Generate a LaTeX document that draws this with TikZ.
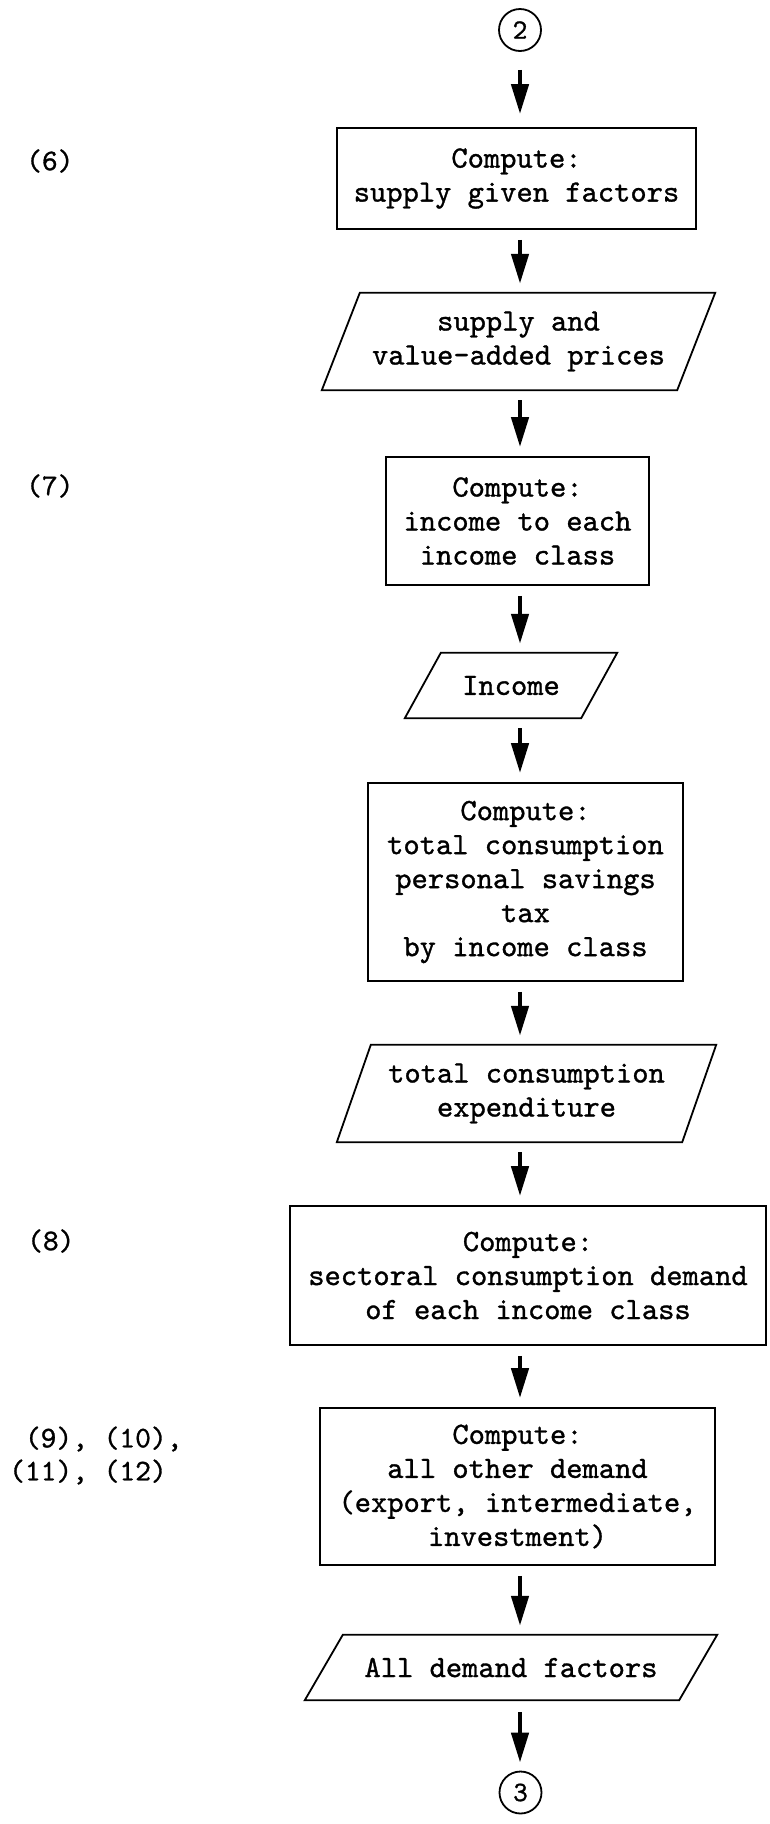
\documentclass[tikz,border=0pt]{standalone}
\usepackage{fontspec}
\newfontfamily\tw[FakeBold=1.0]{lmmono10-regular.otf}
\usetikzlibrary{arrows.meta,calc}

% parallelogram (input/output) outline around a node: #1 node name, #2 half slant
\newcommand\drawpara[2]{%
  \draw[outline] ($(#1.north west)+(#2,0)$) -- ($(#1.north east)+(#2,0)$)
    -- ($(#1.south east)-(#2,0)$) -- ($(#1.south west)-(#2,0)$) -- cycle;}

\begin{document}
\begin{tikzpicture}[x=1pt,y=-1pt,
  txt/.style={font=\tw\fontsize{31}{34}\selectfont, align=center, inner sep=0pt},
  outline/.style={line width=1.8pt, line join=miter},
  procbox/.style={txt, draw, outline},
  iobox/.style={txt},
  conn/.style={draw, circle, line width=1.8pt, minimum size=42pt, inner sep=0pt,
    font=\tw\fontsize{28}{28}\selectfont},
  lbl/.style={font=\tw\fontsize{30}{33}\selectfont, align=left, inner sep=0pt, anchor=west},
  flow/.style={line width=4.5pt, -{Triangle[length=30pt,width=17pt]},
    shorten <=10pt, shorten >=9pt}]

\fill[white] (0,0) rectangle (769,1824);
\useasboundingbox (0,0) rectangle (769,1824);

\coordinate (axis) at (520,0);

% connectors in and out
\node[conn] (c2) at (520,30) {2};
\node[conn] (c3) at (520.5,1792.5) {3};

% processing steps and their outputs
\node[procbox, minimum width=359pt, minimum height=101pt] (b1) at (516.5,178.5)
  {Compute:\\supply given factors};
\node[iobox, minimum width=355pt, minimum height=97pt] (p1) at (518.5,341.5)
  {supply and\\value-added prices};
\node[procbox, minimum width=263pt, minimum height=128pt] (b2) at (517.5,521)
  {Compute:\\income to each\\income class};
\node[iobox, minimum width=176pt, minimum height=65pt] (p2) at (511,685.5)
  {Income};
\node[procbox, minimum width=315pt, minimum height=198pt] (b3) at (525.5,882)
  {Compute:\\total consumption\\personal savings\\tax\hspace*{16pt}\\by income class};
\node[iobox, minimum width=345pt, minimum height=97pt] (p3) at (526.5,1093.5)
  {total consumption\\expenditure};
\node[procbox, minimum width=476pt, minimum height=139pt] (b4) at (528,1275.5)
  {Compute:\\sectoral consumption demand\\of each income class};
\node[procbox, minimum width=395pt, minimum height=157pt] (b5) at (517.5,1486.5)
  {Compute:\\all other demand\\(export, intermediate,\\investment)};
\node[iobox, minimum width=374pt, minimum height=65pt] (p4) at (511,1667.5)
  {All demand factors};

\drawpara{p1}{19}
\drawpara{p2}{18}
\drawpara{p3}{17}
\drawpara{p4}{19}

% equation references
\node[lbl] (r6) at (26,161) {(6)};
\node[lbl] (r7) at (26,486) {(7)};
\node[lbl] (r8) at (27,1241) {(8)};
\node[lbl] (r9) at (9,1455.5) {\hspace*{0.525em}(9), (10),\\(11), (12)};

% flow arrows
\draw[flow, shorten <=18pt, shorten >=13pt] (c2.south -| axis) -- (b1.north -| axis);
\draw[flow] (b1.south -| axis) -- (p1.north -| axis);
\draw[flow] (p1.south -| axis) -- (b2.north -| axis);
\draw[flow] (b2.south -| axis) -- (p2.north -| axis);
\draw[flow] (p2.south -| axis) -- (b3.north -| axis);
\draw[flow] (b3.south -| axis) -- (p3.north -| axis);
\draw[flow] (p3.south -| axis) -- (b4.north -| axis);
\draw[flow] (b4.south -| axis) -- (b5.north -| axis);
\draw[flow] (b5.south -| axis) -- (p4.north -| axis);
\draw[flow, shorten <=12pt, shorten >=8pt] (p4.south -| axis) -- (c3.north -| axis);

\end{tikzpicture}
\end{document}
